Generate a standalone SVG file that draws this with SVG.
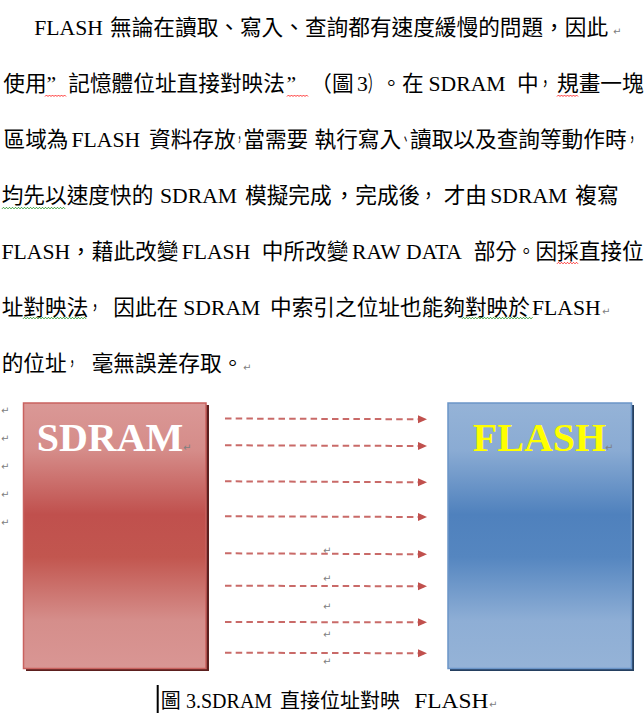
<svg xmlns="http://www.w3.org/2000/svg" width="644" height="723" viewBox="0 0 644 723">
<defs>
<style>
.body{font-family:"Liberation Serif","Noto Sans CJK TC",serif;font-size:21.67px;fill:#000}
.cap{font-family:"Liberation Serif","Noto Sans CJK TC",serif;font-size:20px;fill:#000}
.pm{font-family:"DejaVu Sans",sans-serif;font-size:10px;fill:#808080}
.title{font-family:"Liberation Serif",serif;font-size:40px;font-weight:bold;text-anchor:middle}
.arrow{stroke:#c0504d;stroke-width:2;stroke-opacity:0.85;stroke-dasharray:6.5 4.2;fill:none;marker-end:url(#ah)}
.wr{fill:none;stroke:#ff0000;stroke-width:0.8}
.wg{fill:none;stroke:#008000;stroke-width:0.8}
</style>
<linearGradient id="gr" x1="0" y1="0" x2="0" y2="1">
<stop offset="0" stop-color="#da9896"/>
<stop offset="0.18" stop-color="#d58c89"/>
<stop offset="0.42" stop-color="#c0504d"/>
<stop offset="0.58" stop-color="#c2564f"/>
<stop offset="0.82" stop-color="#d58e8b"/>
<stop offset="1" stop-color="#d99694"/>
</linearGradient>
<linearGradient id="gb" x1="0" y1="0" x2="0" y2="1">
<stop offset="0" stop-color="#95b3d7"/>
<stop offset="0.18" stop-color="#8aabd3"/>
<stop offset="0.42" stop-color="#4f81bd"/>
<stop offset="0.58" stop-color="#5586c0"/>
<stop offset="0.82" stop-color="#8eaed5"/>
<stop offset="1" stop-color="#95b3d7"/>
</linearGradient>
<marker id="ah" markerUnits="userSpaceOnUse" markerWidth="10" markerHeight="9" refX="9" refY="4" orient="auto">
<path d="M0,0 L9,4 L0,8 Z" fill="#c0504d"/>
</marker>
</defs>
<rect width="644" height="723" fill="#fff"/>

<g id="body-text">
<text class="body" y="35"><tspan x="34.3">FLASH</tspan><tspan x="110">無論在讀取、寫入、查詢都有速度緩慢的問題，因此</tspan></text>

<text class="body" y="91.3"><tspan x="3.3">使用</tspan><tspan x="46.6">”</tspan><tspan x="68.3">記憶體位址直接對映法</tspan><tspan x="286.5">”</tspan><tspan x="310.3">（圖</tspan><tspan x="357">3</tspan></text>
<text class="body" transform="translate(367.8,91.3) scale(0.6,1)">）</text>
<text class="body" transform="translate(380.8,91.3) scale(0.97,1)">。</text>
<text class="body" y="91.3"><tspan x="402">在</tspan><tspan x="428.5">SDRAM</tspan><tspan x="517">中</tspan></text>
<text class="body" transform="translate(538.7,91.3) scale(0.6,1)">，</text>
<text class="body" x="557" y="91.3">規畫一塊</text>

<text class="body" y="147.3"><tspan x="3.5">區域為</tspan><tspan x="71.5">FLASH</tspan><tspan x="149">資料存放</tspan></text>
<text class="body" transform="translate(235.7,147.3) scale(0.35,1)">，</text>
<text class="body" y="147.3"><tspan x="243.3">當需要</tspan><tspan x="314.5">執行寫入</tspan></text>
<text class="body" transform="translate(401.2,147.3) scale(0.4,1)">、</text>
<text class="body" x="410" y="147.3">讀取以及查詢等動作時</text>
<text class="body" transform="translate(626.7,147.3) scale(0.5,1)">，</text>

<text class="body" y="203.3"><tspan x="1.7">均先以速度快的</tspan><tspan x="160">SDRAM</tspan><tspan x="245">模擬完成</tspan></text>
<text class="body" x="333.5" y="203.3">，</text>
<text class="body" x="355.3" y="203.3">完成後</text>
<text class="body" transform="translate(420.3,203.3) scale(0.75,1)">，</text>
<text class="body" y="203.3"><tspan x="443.7">才由</tspan><tspan x="490.3">SDRAM</tspan><tspan x="575.3">複寫</tspan></text>

<text class="body" y="259"><tspan x="1.5">FLASH</tspan><tspan x="70.1">，藉此改變</tspan><tspan x="181.7">FLASH</tspan><tspan x="261.7">中所改變</tspan><tspan x="352">RAW</tspan><tspan x="406">DATA</tspan><tspan x="473.7">部分</tspan></text>
<text class="body" transform="translate(517,259) scale(0.85,1)">。</text>
<text class="body" x="535.4" y="259">因採直接位</text>

<text class="body" x="1.7" y="315">址對映法</text>
<text class="body" transform="translate(88.4,315) scale(0.6,1)">，</text>
<text class="body" y="315"><tspan x="113.3">因此在</tspan><tspan x="183.3">SDRAM</tspan><tspan x="270">中索引</tspan><tspan x="335">之位址也能夠對映於</tspan><tspan x="532">FLASH</tspan></text>

<text class="body" x="1.7" y="371">的位址</text>
<text class="body" transform="translate(66.7,371) scale(0.5,1)">，</text>
<text class="body" x="91.7" y="371">毫無誤差存取。</text>

<text class="pm" x="613" y="35">↵</text>
<text class="pm" x="602" y="315">↵</text>
<text class="pm" x="243" y="371">↵</text>
<path class="wr" d="M45,96.5 l1.5,-1.5 l1.5,1.5 l1.5,-1.5 l1.5,1.5 l1.5,-1.5 l1.5,1.5 l1.5,-1.5 l1.5,1.5 l1.5,-1.5 l1.5,1.5 l1.5,-1.5 l1.5,1.5 l1.5,-1.5 l1.5,1.5"/>
<path class="wr" d="M287,96.5 l1.5,-1.5 l1.5,1.5 l1.5,-1.5 l1.5,1.5 l1.5,-1.5 l1.5,1.5 l1.5,-1.5 l1.5,1.5 l1.5,-1.5 l1.5,1.5 l1.5,-1.5 l1.5,1.5 l1.5,-1.5 l1.5,1.5"/>
<path class="wr" d="M557,96.5 l1.5,-1.5 l1.5,1.5 l1.5,-1.5 l1.5,1.5 l1.5,-1.5 l1.5,1.5 l1.5,-1.5 l1.5,1.5 l1.5,-1.5 l1.5,1.5 l1.5,-1.5 l1.5,1.5 l1.5,-1.5 l1.5,1.5"/>
<path class="wg" d="M2,208.8 l1.5,-1.5 l1.5,1.5 l1.5,-1.5 l1.5,1.5 l1.5,-1.5 l1.5,1.5 l1.5,-1.5 l1.5,1.5 l1.5,-1.5 l1.5,1.5 l1.5,-1.5 l1.5,1.5 l1.5,-1.5 l1.5,1.5 l1.5,-1.5 l1.5,1.5 l1.5,-1.5 l1.5,1.5 l1.5,-1.5 l1.5,1.5 l1.5,-1.5 l1.5,1.5 l1.5,-1.5 l1.5,1.5 l1.5,-1.5 l1.5,1.5 l1.5,-1.5 l1.5,1.5 l1.5,-1.5 l1.5,1.5 l1.5,-1.5 l1.5,1.5 l1.5,-1.5 l1.5,1.5 l1.5,-1.5 l1.5,1.5 l1.5,-1.5 l1.5,1.5 l1.5,-1.5 l1.5,1.5 l1.5,-1.5 l1.5,1.5"/>
<path class="wr" d="M557,263.8 l1.5,-1.5 l1.5,1.5 l1.5,-1.5 l1.5,1.5 l1.5,-1.5 l1.5,1.5 l1.5,-1.5 l1.5,1.5 l1.5,-1.5 l1.5,1.5 l1.5,-1.5 l1.5,1.5 l1.5,-1.5 l1.5,1.5"/>
<path class="wg" d="M23,318.8 l1.5,-1.5 l1.5,1.5 l1.5,-1.5 l1.5,1.5 l1.5,-1.5 l1.5,1.5 l1.5,-1.5 l1.5,1.5 l1.5,-1.5 l1.5,1.5 l1.5,-1.5 l1.5,1.5 l1.5,-1.5 l1.5,1.5 l1.5,-1.5 l1.5,1.5 l1.5,-1.5 l1.5,1.5 l1.5,-1.5 l1.5,1.5 l1.5,-1.5 l1.5,1.5 l1.5,-1.5 l1.5,1.5 l1.5,-1.5 l1.5,1.5 l1.5,-1.5 l1.5,1.5 l1.5,-1.5 l1.5,1.5 l1.5,-1.5 l1.5,1.5 l1.5,-1.5 l1.5,1.5 l1.5,-1.5 l1.5,1.5 l1.5,-1.5 l1.5,1.5 l1.5,-1.5 l1.5,1.5 l1.5,-1.5 l1.5,1.5"/>
<path class="wg" d="M462,318.8 l1.5,-1.5 l1.5,1.5 l1.5,-1.5 l1.5,1.5 l1.5,-1.5 l1.5,1.5 l1.5,-1.5 l1.5,1.5 l1.5,-1.5 l1.5,1.5 l1.5,-1.5 l1.5,1.5 l1.5,-1.5 l1.5,1.5 l1.5,-1.5 l1.5,1.5 l1.5,-1.5 l1.5,1.5 l1.5,-1.5 l1.5,1.5 l1.5,-1.5 l1.5,1.5 l1.5,-1.5 l1.5,1.5 l1.5,-1.5 l1.5,1.5 l1.5,-1.5 l1.5,1.5 l1.5,-1.5 l1.5,1.5 l1.5,-1.5 l1.5,1.5 l1.5,-1.5 l1.5,1.5 l1.5,-1.5 l1.5,1.5 l1.5,-1.5 l1.5,1.5 l1.5,-1.5 l1.5,1.5 l1.5,-1.5 l1.5,1.5 l1.5,-1.5 l1.5,1.5 l1.5,-1.5 l1.5,1.5 l1.5,-1.5"/>
</g>

<g id="para-marks">
<text class="pm" x="1" y="414">↵</text>
<text class="pm" x="1" y="442">↵</text>
<text class="pm" x="1" y="470">↵</text>
<text class="pm" x="1" y="498">↵</text>
<text class="pm" x="1" y="526">↵</text>
<text class="pm" x="323" y="554">↵</text>
<text class="pm" x="323" y="582">↵</text>
<text class="pm" x="323" y="610">↵</text>
<text class="pm" x="323" y="638">↵</text>
<text class="pm" x="323" y="665">↵</text>
</g>

<g id="sdram">
<rect x="26" y="405" width="183" height="266" fill="#5c1f1e"/>
<rect x="23.5" y="403" width="182.5" height="265.5" fill="url(#gr)" stroke="#c9625f" stroke-width="1.5"/>
<text class="title" x="110" y="451" fill="#fff">SDRAM</text>
<text class="pm" x="183" y="451">↵</text>
</g>

<g id="flash">
<rect x="450" y="405" width="184" height="266" fill="#243f60"/>
<rect x="448" y="403" width="183.5" height="265.5" fill="url(#gb)" stroke="#6b95c8" stroke-width="1.5"/>
<text class="title" x="539.5" y="451" fill="#ffff00">FLASH</text>
<text class="pm" x="605" y="451">↵</text>
</g>

<g id="connectors">
<line class="arrow" x1="225" y1="418.5" x2="427" y2="419.3"/>
<line class="arrow" x1="225" y1="445.3" x2="427" y2="446"/>
<line class="arrow" x1="225" y1="481.3" x2="427" y2="482.3"/>
<line class="arrow" x1="225" y1="516.3" x2="427" y2="517"/>
<line class="arrow" x1="225" y1="553.3" x2="427" y2="554.3"/>
<line class="arrow" x1="225" y1="585.7" x2="427" y2="586.3"/>
<line class="arrow" x1="225" y1="622" x2="427" y2="622.3"/>
<line class="arrow" x1="225" y1="652.7" x2="427" y2="653.3"/>
</g>

<g id="caption">
<rect x="156.7" y="685" width="2" height="28" fill="#000"/>
<text class="cap" y="708"><tspan x="160.7">圖</tspan><tspan x="186">3.SDRAM</tspan><tspan x="280">直接位址對映</tspan></text>
<text class="cap" x="414.3" y="708" textLength="74" lengthAdjust="spacingAndGlyphs">FLASH</text>
<text class="pm" x="489" y="708">↵</text>
</g>
</svg>
